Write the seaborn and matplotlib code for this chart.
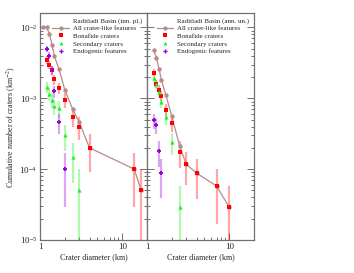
import numpy as np
import matplotlib
matplotlib.use("Agg")
import matplotlib.pyplot as plt
import seaborn as sns
from matplotlib.lines import Line2D
from matplotlib.ticker import LogLocator, FixedLocator, NullFormatter, FixedFormatter

# ---- inner plains (left panel) ----
all_d_inn = [1.1, 1.2, 1.3, 1.4, 1.5, 1.7, 2.0, 2.5, 3.0, 4.0, 14, 17]
all_n_inn = [1.0e-2, 1.0e-2, 8.2e-3, 5.7e-3, 3.9e-3, 2.6e-3, 1.33e-3, 7.0e-4, 4.6e-4, 2.0e-4, 1.0e-4, 5.0e-5]

bon_d_inn = [1.2, 1.3, 1.4, 1.5, 1.7, 2.0, 2.5, 3.0, 4.0, 14, 17]
bon_n_inn = [3.5e-3, 3.0e-3, 2.5e-3, 1.85e-3, 1.4e-3, 9.5e-4, 5.5e-4, 4.0e-4, 2.0e-4, 1.0e-4, 5.0e-5]
bon_e_inn = [4.2e-4, 3.9e-4, 3.5e-4, 3.0e-4, 2.6e-4, 2.2e-4, 1.6e-4, 1.4e-4, 1.1e-4, 7.1e-5, 5.0e-5]

sec_d_inn = [1.2, 1.3, 1.4, 1.5, 1.7, 2.0, 2.5, 3.0]
sec_n_inn = [1.45e-3, 1.15e-3, 9.5e-4, 7.8e-4, 7.2e-4, 3.0e-4, 1.5e-4, 5.0e-5]
sec_e_inn = [2.7e-4, 2.4e-4, 2.2e-4, 2.0e-4, 1.9e-4, 1.2e-4, 8.7e-5, 5.0e-5]

end_d_inn = [1.2, 1.3, 1.4, 1.5, 1.7, 2.0]
end_n_inn = [5.0e-3, 4.0e-3, 2.5e-3, 1.25e-3, 4.6e-4, 1.0e-4]
end_e_inn = [5.0e-4, 4.5e-4, 3.5e-4, 2.5e-4, 1.5e-4, 7.1e-5]

# ---- annulus (right panel) ----
all_d_ann = [1.2, 1.3, 1.4, 1.5, 1.7, 2.0, 2.5, 3.0, 4.0, 7.0, 10]
all_n_ann = [4.85e-3, 3.74e-3, 2.6e-3, 1.8e-3, 1.1e-3, 5.6e-4, 2.1e-4, 1.17e-4, 8.8e-5, 5.8e-5, 2.9e-5]

bon_d_ann = [1.2, 1.3, 1.4, 1.5, 1.7, 2.0, 2.5, 3.0, 4.0, 7.0, 10]
bon_n_ann = [2.3e-3, 1.6e-3, 1.33e-3, 1.08e-3, 6.9e-4, 4.5e-4, 1.75e-4, 1.17e-4, 8.8e-5, 5.8e-5, 2.9e-5]
bon_e_ann = [2.6e-4, 2.15e-4, 1.97e-4, 1.76e-4, 1.42e-4, 1.14e-4, 7.1e-5, 5.8e-5, 5.0e-5, 4.1e-5, 2.9e-5]

sec_d_ann = [1.2, 1.3, 1.4, 1.5, 1.7, 2.0, 2.5]
sec_n_ann = [1.93e-3, 1.58e-3, 1.22e-3, 8.8e-4, 5.4e-4, 2.4e-4, 2.9e-5]
sec_e_ann = [2.36e-4, 2.14e-4, 1.88e-4, 1.59e-4, 1.25e-4, 8.4e-5, 2.9e-5]

end_d_ann = [1.2, 1.3, 1.4, 1.5]
end_n_ann = [4.9e-4, 4.2e-4, 1.78e-4, 8.9e-5]
end_e_ann = [1.2e-4, 1.1e-4, 7.1e-5, 5.0e-5]

panel_titles = ["Raditladi Basin (inn. pl.)", "Raditladi Basin (ann. un.)"]
series_labels = ["All crater-like features", "Bonafide craters", "Secondary craters", "Endogenic features"]

c_all = "#b98a8a"
c_bon = "#ff0000"
c_sec = "#22ee22"
c_end = "#9a00e0"
spine_c = "#707070"

sns.set_style("ticks")
plt.rcParams["font.family"] = ["Liberation Serif", "DejaVu Serif"]
plt.rcParams["mathtext.fontset"] = "stix"

fig = plt.figure(figsize=(3.54, 2.73), dpi=100)
ax1 = fig.add_axes([40 / 354, 1 - 240 / 273, 107 / 354, 227 / 273])
ax2 = fig.add_axes([147 / 354, 1 - 240 / 273, 107 / 354, 227 / 273])

panels = [
    (ax1, all_d_inn, all_n_inn, bon_d_inn, bon_n_inn, bon_e_inn, sec_d_inn, sec_n_inn, sec_e_inn,
     end_d_inn, end_n_inn, end_e_inn),
    (ax2, all_d_ann, all_n_ann, bon_d_ann, bon_n_ann, bon_e_ann, sec_d_ann, sec_n_ann, sec_e_ann,
     end_d_ann, end_n_ann, end_e_ann),
]

for i, (ax, ad, an, bd, bn, be, sd, sn, se, ed, en, ee) in enumerate(panels):
    ax.set_xscale("log")
    ax.set_yscale("log")
    # error bars (light)
    for d, n, e, c in [(bd, bn, be, c_bon), (sd, sn, se, c_sec), (ed, en, ee, c_end)]:
        ax.errorbar(d, n, yerr=e, fmt="none", ecolor=c, alpha=0.35, elinewidth=1.6, capsize=0, zorder=2)
    sns.lineplot(x=ad, y=an, ax=ax, color=c_all, lw=0.9, marker="o", markersize=3.2,
                 markeredgewidth=0, zorder=3, legend=False)
    sns.scatterplot(x=bd, y=bn, ax=ax, color=c_bon, marker="s", s=9, linewidth=0, zorder=4, legend=False)
    sns.scatterplot(x=sd, y=sn, ax=ax, color=c_sec, marker="^", s=9, linewidth=0, zorder=4, legend=False)
    sns.scatterplot(x=ed, y=en, ax=ax, color=c_end, marker="P", s=10, linewidth=0, zorder=4, legend=False)

    ax.set_xlim(1, 20)
    ax.set_ylim(1e-5, 1.6e-2)
    ax.xaxis.set_major_locator(FixedLocator([1, 10]))
    ax.xaxis.set_major_formatter(FixedFormatter(["1", "10"]))
    ax.xaxis.set_minor_locator(LogLocator(base=10, subs=np.arange(2, 10)))
    ax.xaxis.set_minor_formatter(NullFormatter())
    ax.yaxis.set_major_locator(LogLocator(base=10, numticks=10))
    ax.yaxis.set_minor_locator(LogLocator(base=10, subs=np.arange(2, 10), numticks=10))
    ax.yaxis.set_minor_formatter(NullFormatter())
    ax.tick_params(which="both", direction="in", left=True, right=True, top=False,
                   color=spine_c, labelsize=6.5, pad=2, width=0.7)
    ax.tick_params(which="major", length=5)
    ax.tick_params(which="minor", length=2.5)
    for s in ax.spines.values():
        s.set_color(spine_c)
        s.set_linewidth(0.9)
    ax.set_xlabel("Crater diameter (km)", fontsize=5.8, labelpad=2)
    if i == 1:
        ax.set_yticklabels([])
        ax.set_ylabel("")

    handles = [
        Line2D([], [], linestyle="none", marker=None),
        Line2D([], [], color=c_all, lw=0.9, marker="o", markersize=3, markeredgewidth=0),
        Line2D([], [], color=c_bon, linestyle="none", marker="s", markersize=2.7, markeredgewidth=0),
        Line2D([], [], color=c_sec, linestyle="none", marker="^", markersize=2.7, markeredgewidth=0),
        Line2D([], [], color=c_end, linestyle="none", marker="P", markersize=3, markeredgewidth=0),
    ]
    ax.legend(handles, [panel_titles[i]] + series_labels, loc="upper right", frameon=False,
              fontsize=5.0, handlelength=2.4, handletextpad=0.6, labelspacing=0.25,
              borderaxespad=0.25, bbox_to_anchor=(1.0, 1.0))

ax1.set_ylabel("Cumulative number of craters (km$^{-2}$)", fontsize=5.8, labelpad=1)

fig.savefig("out.png", dpi=100)
